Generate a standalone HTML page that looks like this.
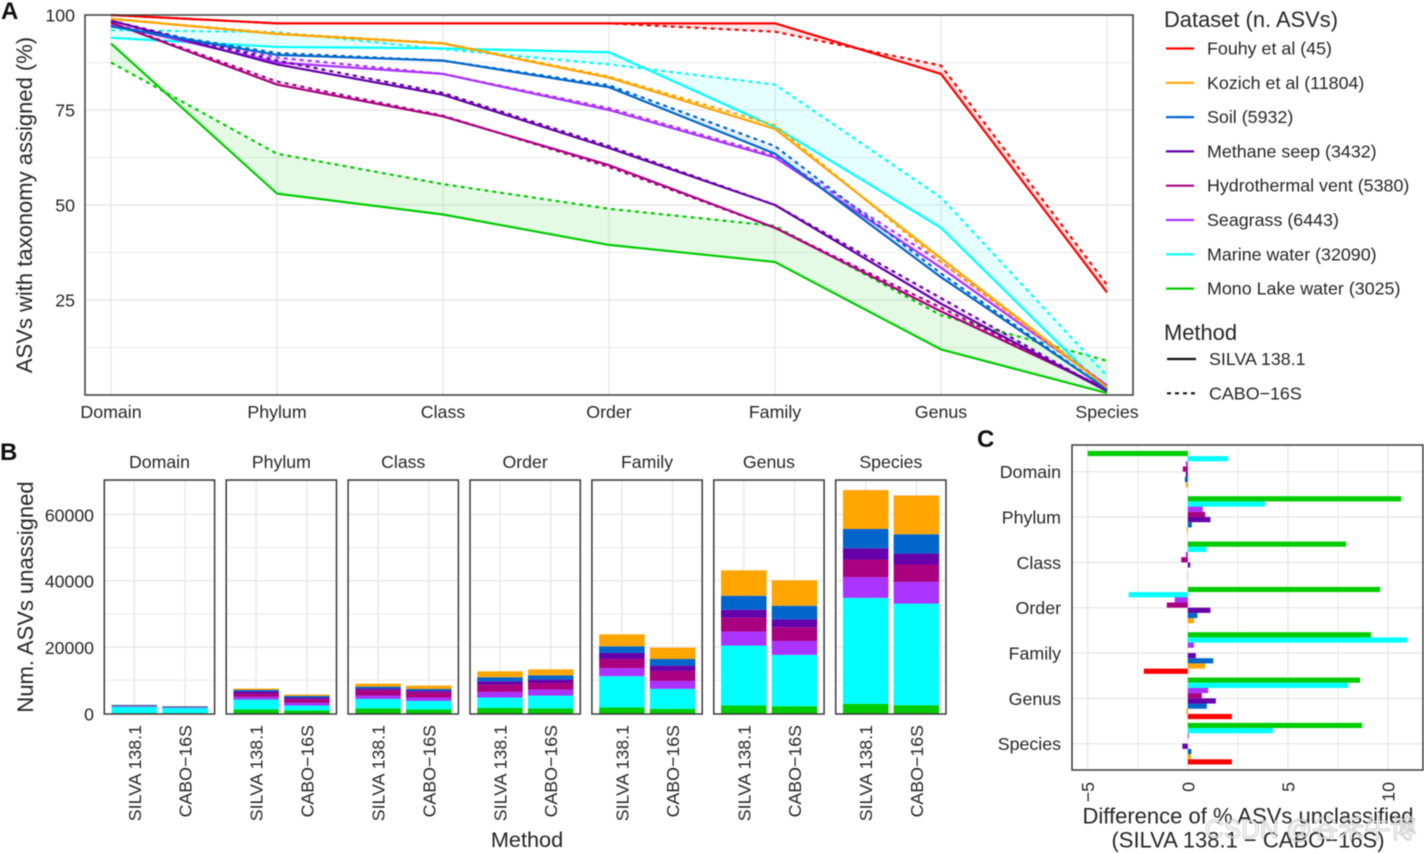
<!DOCTYPE html>
<html lang="en">
<head>
<meta charset="utf-8">
<title>Taxonomy assignment by dataset and method</title>
<style>
html,body{margin:0;padding:0;background:#fff;width:1424px;height:853px;overflow:hidden}
svg{display:block;font-family:"Liberation Sans","Noto Sans CJK SC",sans-serif;filter:blur(.4px)}
text{fill:#262626}
</style>
</head>
<body>
<svg id="fig" xmlns="http://www.w3.org/2000/svg" width="1424" height="853" viewBox="0 0 1424 853">
  <rect width="1424" height="853" fill="#fff"/>
  <text x="1" y="19" font-size="24" font-weight="bold" style="fill:#111">A</text>
  <text x="0" y="460" font-size="24" font-weight="bold" style="fill:#111">B</text>
  <text x="977" y="447" font-size="24" font-weight="bold" style="fill:#111">C</text>
  <g id="panelA"></g>
  <g id="legend"></g>
  <g id="panelB"></g>
  <g id="panelC"></g>
  <text x="32" y="205" font-size="22" text-anchor="middle" transform="rotate(-90 32 205)">ASVs with taxonomy assigned (%)</text>
  <text x="33" y="597" font-size="22" text-anchor="middle" transform="rotate(-90 33 597)">Num. ASVs unassigned</text>
  <text x="527" y="847" font-size="21.7" text-anchor="middle">Method</text>
  <text x="1248" y="823.5" font-size="22" text-anchor="middle">Difference of % ASVs unclassified</text>
  <text x="1248" y="847.5" font-size="22" text-anchor="middle">(SILVA 138.1 − CABO−16S)</text>
  <text x="1205" y="838" font-size="26" style="fill:rgba(255,255,255,.72);stroke:rgba(120,120,120,.5);stroke-width:.7">CSDN @谷禾牛博</text>
</svg>
<script>
// ----- shared categories -----
const taxa = ['Domain','Phylum','Class','Order','Family','Genus','Species'];
const methods = ['SILVA 138.1','CABO−16S'];
const datasets = ['Fouhy et al (45)','Kozich et al (11804)','Soil (5932)','Methane seep (3432)','Hydrothermal vent (5380)','Seagrass (6443)','Marine water (32090)','Mono Lake water (3025)'];
const palette = ['#FF0000','#FFA500','#0066CC','#6600AA','#AA0080','#AA33FF','#00FFFF','#00CC00'];

// ----- panel A: % ASVs assigned, per taxon -----
const fouhySilva  = [100,97.8,97.8,97.8,97.8,84.5,27];
const fouhyCabo   = [100,97.8,97.8,97.8,95.6,86.7,29];
const kozichSilva = [99,95,92.5,83.5,70,36,2];
const kozichCabo  = [99,95.2,92.6,83.8,71,35,2];
const soilSilva   = [97,89.5,88,81,63.5,31,1.5];
const soilCabo    = [97,90,88,81.5,65.5,32,1.5];
const methaneSilva= [98.5,87,79,65,50,24,1];
const methaneCabo = [98.5,88,79.5,65.5,50,25.5,1];
const hydroSilva  = [98,81.7,73.3,60.5,44,22,1.5];
const hydroCabo   = [98,82.5,73.5,60,44,23,1.5];
const seagrassSilva=[97.5,87.5,84.5,75,62.5,33.5,2.5];
const seagrassCabo =[97.5,88.8,84.5,75.5,63,35,2.5];
const marineSilva = [94,91.6,91.2,90.2,70.5,44,1];
const marineCabo  = [96,95.5,91,87,81.7,52,5];
const monoSilva   = [92.5,53,47.5,39.5,35,12,0.5];
const monoCabo    = [87.5,63.5,55.5,49,44.5,21,9];
const assignedTicks = [25,50,75,100];

// ----- panel B: unassigned ASV counts, per taxon -----
const fouhySilvaCounts   = [0,1,1,1,1,7,33];
const fouhyCaboCounts    = [0,1,1,1,2,6,32];
const kozichSilvaCounts  = [60,400,900,1800,3600,7630,11650];
const kozichCaboCounts   = [60,400,1000,1800,3400,7630,11650];
const soilSilvaCounts    = [250,500,600,1200,2000,4200,5820];
const soilCaboCounts     = [250,500,500,1300,2000,4100,5820];
const methaneSilvaCounts = [50,600,500,1000,1800,2400,3400];
const methaneCaboCounts  = [40,500,500,1000,1600,2400,3300];
const hydroSilvaCounts   = [110,1000,1600,2200,2800,4200,5320];
const hydroCaboCounts    = [110,1100,1600,2000,3000,4100,5220];
const seagrassSilvaCounts= [130,800,1000,1700,2400,4200,6220];
const seagrassCaboCounts = [100,800,1000,1800,2400,4200,6530];
const marineSilvaCounts  = [1920,3010,2900,3100,9440,18070,31930];
const marineCaboCounts   = [1600,1500,2600,3900,6020,15460,30620];
const monoSilvaCounts    = [100,1200,1500,1700,1800,2400,2900];
const monoCaboCounts     = [60,900,1200,1500,1400,2200,2500];
const countTicks = [0,20000,40000,60000];

// ----- panel C: difference, per taxon -----
const fouhyDiff   = [0,0,0,0,-2.2,2.2,2.2];
const kozichDiff  = [-0.1,-0.05,-0.02,0.3,0.87,-0.08,0.15];
const soilDiff    = [-0.15,0.2,0,0.48,1.27,0.95,0.18];
const methaneDiff = [-0.1,1.13,0.12,1.13,0.4,1.4,-0.27];
const hydroDiff   = [-0.25,0.87,-0.33,-1.05,0,0.7,0];
const seagrassDiff= [-0.1,0.75,-0.1,-0.65,0.3,1.02,0.05];
const marineDiff  = [2,3.85,0.92,-2.95,10.95,8,4.25];
const monoDiff    = [-5,10.65,7.9,9.6,9.15,8.6,8.7];
const diffTicks = [-5,0,5,10];

// series groupings, in legend order
const silvaSeries = [fouhySilva,kozichSilva,soilSilva,methaneSilva,hydroSilva,seagrassSilva,marineSilva,monoSilva];
const caboSeries  = [fouhyCabo,kozichCabo,soilCabo,methaneCabo,hydroCabo,seagrassCabo,marineCabo,monoCabo];
const silvaCounts = [fouhySilvaCounts,kozichSilvaCounts,soilSilvaCounts,methaneSilvaCounts,hydroSilvaCounts,seagrassSilvaCounts,marineSilvaCounts,monoSilvaCounts];
const caboCounts  = [fouhyCaboCounts,kozichCaboCounts,soilCaboCounts,methaneCaboCounts,hydroCaboCounts,seagrassCaboCounts,marineCaboCounts,monoCaboCounts];
const diffSeries  = [fouhyDiff,kozichDiff,soilDiff,methaneDiff,hydroDiff,seagrassDiff,marineDiff,monoDiff];

const NS = 'http://www.w3.org/2000/svg';
function mk(parent, tag, attrs, txt){
  const e = document.createElementNS(NS, tag);
  for (const k in attrs) e.setAttribute(k, attrs[k]);
  if (txt !== undefined) e.textContent = txt;
  parent.appendChild(e);
  return e;
}
const slug = s => s.toLowerCase().replace(/\(.*\)/,'').trim().replace(/[^a-z0-9]+/g,'-');
const GRID = '#EBEBEB', FRAME = '#3a3a3a';

// ===== Panel A =====
const A = document.getElementById('panelA');
const ax = i => 111 + i * 166;
const ay = v => 395 - v * 3.8;
[12.5,25,37.5,50,62.5,75,87.5].forEach(v => {
  const g = mk(A,'line',{x1:85,x2:1133,y1:ay(v),y2:ay(v),stroke:GRID,'stroke-width':v % 25 === 0 ? 1.7 : 1.1});
  
  
});
taxa.forEach((t,i) => {
  const g = mk(A,'line',{x1:ax(i),x2:ax(i),y1:15,y2:395,stroke:GRID,'stroke-width':1.7});
  
  
  const l = mk(A,'text',{x:ax(i),y:418,'font-size':17.8,'text-anchor':'middle'},t);
  
  
});
assignedTicks.forEach(v => {
  const l = mk(A,'text',{x:75,y:ay(v)+6.5,'font-size':17.8,'text-anchor':'end'},v);
  
  
});
const drawOrder = [7,6,5,4,3,2,1,0];
drawOrder.forEach(d => {
  const top = silvaSeries[d].map((v,i) => ax(i)+','+ay(v));
  const bot = caboSeries[d].map((v,i) => ax(i)+','+ay(v)).reverse();
  const r = mk(A,'polygon',{points:top.concat(bot).join(' '),fill:palette[d],'fill-opacity':0.1,stroke:'none'});
  
  
});
drawOrder.forEach(d => {
  const s = mk(A,'polyline',{points:silvaSeries[d].map((v,i) => ax(i)+','+ay(v)).join(' '),fill:'none',stroke:palette[d],'stroke-width':2.2,'stroke-linejoin':'round'});
  
  
  const c = mk(A,'polyline',{points:caboSeries[d].map((v,i) => ax(i)+','+ay(v)).join(' '),fill:'none',stroke:palette[d],'stroke-width':2.2,'stroke-dasharray':'4 4','stroke-linejoin':'round'});
  
  
});
const fa = mk(A,'rect',{x:85,y:15,width:1048,height:380,fill:'none',stroke:FRAME,'stroke-width':1.5});



// ===== Legend =====
const L = document.getElementById('legend');
const lt = mk(L,'text',{x:1164,y:27,'font-size':21.9},'Dataset (n. ASVs)');


datasets.forEach((n,i) => {
  const y = 48.5 + i * 34.3;
  const k = mk(L,'line',{x1:1166,x2:1194,y1:y,y2:y,stroke:palette[i],'stroke-width':2.2});
  
  
  const t = mk(L,'text',{x:1207,y:y+6,'font-size':17.85},n);
  
  
});
const lm = mk(L,'text',{x:1164,y:340,'font-size':21.9},'Method');


methods.forEach((n,i) => {
  const y = 359 + i * 34.3;
  const k = mk(L,'line',{x1:1167,x2:1196,y1:y,y2:y,stroke:'#111','stroke-width':2.2,'stroke-dasharray':i ? '4 4' : 'none'});
  
  
  const t = mk(L,'text',{x:1209,y:y+6,'font-size':17.85},n);
  
  
});

// ===== Panel B =====
const B = document.getElementById('panelB');
const by = v => 713.5 - v / 20000 * 66.4;
const BOX_W = 110.3, BOX_STEP = 121.9, BOX_X0 = 104.3, BAR_W = 45.5;
const barOffsets = [30, 80.7];
const stackOrder = [7,6,5,4,3,2,1,0];
const gridCounts = [10000,20000,30000,40000,50000,60000,70000];
countTicks.forEach(v => {
  const l = mk(B,'text',{x:94,y:by(v)+7,'font-size':17.7,'text-anchor':'end'},v);
  
  
});
taxa.forEach((t,p) => {
  const x0 = BOX_X0 + p * BOX_STEP;
  gridCounts.forEach(v => {
    const g = mk(B,'line',{x1:x0,x2:x0+BOX_W,y1:by(v),y2:by(v),stroke:GRID,'stroke-width':v % 20000 === 0 ? 1.7 : 1.1});
    
    
  });
  methods.forEach((m,mi) => {
    const cx = x0 + barOffsets[mi];
    const g = mk(B,'line',{x1:cx,x2:cx,y1:480,y2:714,stroke:GRID,'stroke-width':1.7});
    
    
    const source = mi === 0 ? silvaCounts : caboCounts;
    let base = 0;
    stackOrder.forEach(d => {
      const val = source[d][p];
      const r = mk(B,'rect',{x:cx-BAR_W/2,y:by(base+val),width:BAR_W,height:by(base)-by(base+val),fill:palette[d]});
      
      
      base += val;
    });
    const tx = cx + 6.5, ty = 725;
    const l = mk(B,'text',{x:tx,y:ty,'font-size':17.8,'text-anchor':'end',transform:'rotate(-90 '+tx+' '+ty+')'},m);
    
    
  });
  const f = mk(B,'rect',{x:x0,y:480,width:BOX_W,height:234,fill:'none',stroke:FRAME,'stroke-width':1.5});
  
  
  const s = mk(B,'text',{x:x0+BOX_W/2,y:468,'font-size':17.7,'text-anchor':'middle'},t);
  
  
});

// ===== Panel C =====
const C = document.getElementById('panelC');
const cx = v => 1187.8 + v * 20.03;
const cy = i => 471.7 + i * 45.33;
const BAND = 5.2;
[-5,-2.5,0,2.5,5,7.5,10].forEach(v => {
  const g = mk(C,'line',{x1:cx(v),x2:cx(v),y1:445,y2:770,stroke:GRID,'stroke-width':v % 5 === 0 ? 1.7 : 1.1});
  
  
});
taxa.forEach((t,i) => {
  const g = mk(C,'line',{x1:1072,x2:1423,y1:cy(i),y2:cy(i),stroke:GRID,'stroke-width':1.7});
  
  
  const l = mk(C,'text',{x:1061,y:cy(i)+6.5,'font-size':17.8,'text-anchor':'end'},t);
  
  
});
taxa.forEach((t,i) => {
  stackOrder.forEach((d,k) => {
    const v = diffSeries[d][i];
    const yy = cy(i) + (k - 3.5) * BAND - BAND / 2;
    const r = mk(C,'rect',{x:Math.min(cx(0),cx(v)),y:yy,width:Math.abs(cx(v)-cx(0)),height:BAND,fill:palette[d]});
    
    
  });
});
diffTicks.forEach(v => {
  const tx = cx(v) + 6.5, ty = 782;
  const l = mk(C,'text',{x:tx,y:ty,'font-size':17.8,'text-anchor':'end',transform:'rotate(-90 '+tx+' '+ty+')'},String(v).replace('-','−'));
  
  
});
const fc = mk(C,'rect',{x:1072,y:445,width:351,height:325,fill:'none',stroke:FRAME,'stroke-width':1.5});


</script>
</body>
</html>
